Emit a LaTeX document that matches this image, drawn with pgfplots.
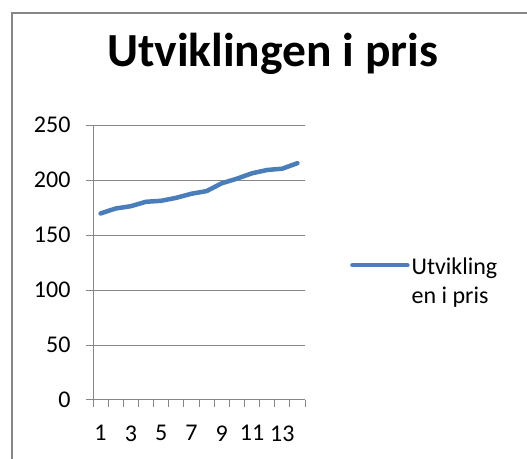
\documentclass[border=0pt]{standalone}
\usepackage{pgfplots}
\pgfplotsset{compat=1.18}
\usepackage{fontspec}
\setmainfont{Carlito}
\definecolor{xlblue}{HTML}{4A7EBB}
\definecolor{xlgray}{HTML}{868686}
\begin{document}
\begin{tikzpicture}
\useasboundingbox (0,0) rectangle (527bp,459bp);
\draw[xlgray, line width=1.3bp] (12bp,0) -- (12bp,446bp) -- (527bp,446bp);
\begin{axis}[
  at={(93bp,59bp)}, anchor=south west,
  scale only axis, width=212bp, height=275bp,
  xmin=0.5, xmax=14.5, ymin=0, ymax=250,
  axis x line*=bottom, axis y line*=left,
  axis line style={xlgray, line width=1bp, -},
  ytick={0,50,...,250},
  xtick={1,3,...,13},
  minor xtick={0.5,1.5,...,14.5},
  major x tick style={draw=none},
  minor x tick style={xlgray, line width=1bp},
  y tick style={xlgray, line width=1bp},
  tick align=outside,
  major tick length=7bp, minor tick length=7bp,
  ymajorgrids,
  grid style={xlgray, line width=1bp},
  /pgf/number format/assume math mode=true,
  tick label style={font=\fontsize{24bp}{28bp}\selectfont},
  yticklabel style={anchor=east, xshift=-12bp},
  xticklabel style={anchor=north, yshift=-15bp},
  title={Utviklingen i pris},
  title style={at={(0.847,1.19)}, anchor=base, font=\bfseries\fontsize{47.5bp}{52bp}\selectfont},
  legend style={at={(1.212,0.49)}, anchor=west, draw=none, fill=none, inner sep=0pt,
    font=\fontsize{24bp}{29bp}\selectfont},
  legend cell align=left,
  legend image code/.code={\draw[#1] (0bp,0bp) -- (55bp,0bp);},
]
\addplot[xlblue, line width=4.5bp, line cap=round, line join=round] coordinates {
(1,169.6) (2,174.1) (3,176.2) (4,180.2) (5,181.1) (6,183.8) (7,187.5)
(8,189.9) (9,197.0) (10,201.2) (11,206.1) (12,209.1) (13,210.3) (14,215.3)
};
\addlegendentry{\begin{tabular}[t]{@{}l@{}}Utvikling\\en i pris\end{tabular}}
\end{axis}
\end{tikzpicture}
\end{document}
